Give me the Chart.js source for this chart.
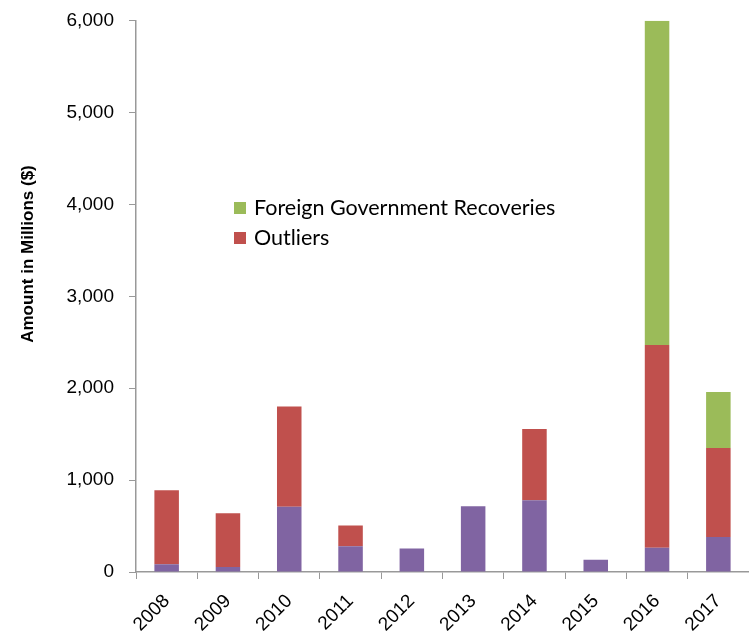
<!DOCTYPE html>
<html>
<head>
<meta charset="utf-8">
<script src="https://cdn.jsdelivr.net/npm/chart.js@4.4.0/dist/chart.umd.min.js"></script>
<style>
  html, body { margin: 0; padding: 0; background: #fff; }
  #wrap { width: 749px; height: 635px; position: relative; }
</style>
</head>
<body>
<div id="wrap"><canvas id="recoveriesChart"></canvas></div>
<script>
// Dữ liệu biểu đồ (triệu $)
const years = ['2008', '2009', '2010', '2011', '2012', '2013', '2014', '2015', '2016', '2017'];
const baseAmounts = [85, 55, 710, 280, 255, 715, 780, 133, 265, 380];
const outlierAmounts = [805, 585, 1090, 225, 0, 0, 775, 0, 2205, 970];
const foreignAmounts = [0, 0, 0, 0, 0, 0, 0, 0, 3530, 610];
const yTicks = [0, 1000, 2000, 3000, 4000, 5000, 6000];
const yTitle = 'Amount in Millions ($)';

const axisGray = '#999999';

// Chú thích nằm trong vùng biểu đồ
const innerLegend = {
  id: 'innerLegend',
  afterDraw(chart, args, opts) {
    const ctx = chart.ctx;
    const items = chart.data.datasets.filter(d => d.inLegend).reverse();
    ctx.save();
    ctx.font = '21.5px Lato';
    ctx.textBaseline = 'middle';
    items.forEach((ds, i) => {
      const y = opts.y + i * opts.rowGap;
      ctx.fillStyle = ds.backgroundColor;
      ctx.fillRect(opts.x, y - 6, 12, 12);
      ctx.fillStyle = '#000';
      ctx.fillText(ds.label, opts.x + 20, y);
    });
    ctx.restore();
  }
};

// Tiêu đề trục Y
const yAxisTitle = {
  id: 'yAxisTitle',
  afterDraw(chart, args, opts) {
    const ctx = chart.ctx;
    ctx.save();
    ctx.translate(opts.x, opts.y);
    ctx.rotate(-Math.PI / 2);
    ctx.font = 'bold 17px "Liberation Sans Narrow", "Liberation Sans"';
    ctx.textAlign = 'center';
    ctx.textBaseline = 'middle';
    ctx.fillStyle = '#000';
    ctx.fillText(yTitle, 0, 0);
    ctx.restore();
  }
};

new Chart(document.getElementById('recoveriesChart'), {
  type: 'bar',
  data: {
    labels: years,
    datasets: [
      { label: 'Base', data: baseAmounts, backgroundColor: '#8064A2', inLegend: false },
      { label: 'Outliers', data: outlierAmounts, backgroundColor: '#C0504D', inLegend: true },
      { label: 'Foreign Government Recoveries', data: foreignAmounts, backgroundColor: '#9BBB59', inLegend: true }
    ]
  },
  options: {
    responsive: true,
    maintainAspectRatio: false,
    animation: false,
    layout: { padding: { top: 10, left: 0, right: 0, bottom: 0 } },
    datasets: { bar: { barPercentage: 0.4, categoryPercentage: 1 } },
    plugins: {
      legend: { display: false },
      tooltip: { enabled: false },
      innerLegend: { x: 234, y: 208, rowGap: 30 },
      yAxisTitle: { x: 28, y: 254 }
    },
    scales: {
      x: {
        stacked: true,
        grid: { drawOnChartArea: false, drawTicks: true, tickLength: 7, color: axisGray, offset: true },
        border: { color: axisGray, width: 1.5 },
        ticks: { color: '#000', font: { family: 'Liberation Sans', size: 19 }, maxRotation: 45, minRotation: 45, padding: 11 },
        afterFit(scale) { scale.height = 63; }
      },
      y: {
        stacked: true,
        min: 0,
        max: 6000,
        afterBuildTicks(scale) { scale.ticks = yTicks.map(v => ({ value: v })); },
        grid: { drawOnChartArea: false, drawTicks: true, tickLength: 7, color: axisGray },
        border: { color: axisGray, width: 1.5 },
        ticks: {
          color: '#000',
          font: { family: 'Liberation Sans', size: 19, lineHeight: 0.6 },
          padding: 15,
          callback: v => v.toLocaleString('en-US')
        },
        afterFit(scale) { scale.width = 136; }
      }
    }
  },
  plugins: [innerLegend, yAxisTitle]
});
</script>
</body>
</html>
